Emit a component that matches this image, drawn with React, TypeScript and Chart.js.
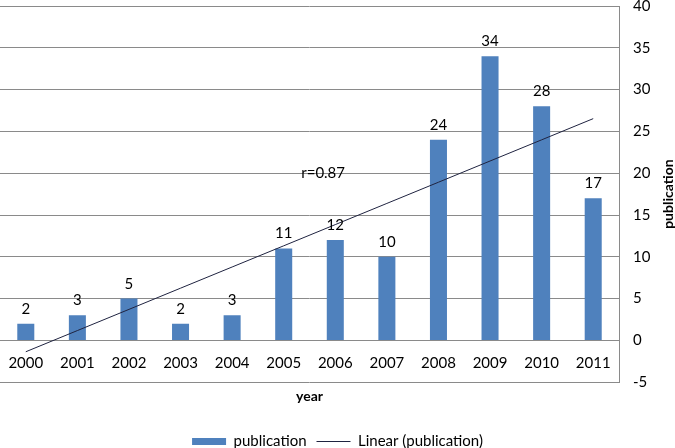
import { useEffect, useRef } from 'react';
import { Chart, registerables } from 'chart.js';

Chart.register(...registerables);

const years = ['2000', '2001', '2002', '2003', '2004', '2005', '2006', '2007', '2008', '2009', '2010', '2011'];
const publications = [2, 3, 5, 2, 3, 11, 12, 10, 24, 34, 28, 17];
const yMin = -5;
const yMax = 40;
const yStep = 5;
const seriesName = 'publication';
const trendName = 'Linear (publication)';
const xTitle = 'year';
const yTitle = 'publication';
const rLabel = 'r=0.87';

// Excel-style linear trendline: least-squares fit of the publication series
function linearFit(values: number[]): number[] {
  const n = values.length;
  const xs = values.map((_, i) => i + 1);
  const mx = xs.reduce((a, b) => a + b, 0) / n;
  const my = values.reduce((a, b) => a + b, 0) / n;
  let sxy = 0;
  let sxx = 0;
  for (let i = 0; i < n; i++) {
    sxy += (xs[i] - mx) * (values[i] - my);
    sxx += (xs[i] - mx) * (xs[i] - mx);
  }
  const slope = sxy / sxx;
  const intercept = my - slope * mx;
  return xs.map((x) => intercept + slope * x);
}

const FONT = 'Lato, "Noto Sans", sans-serif';
const GRID = '#8a8a8a';
const BAR = '#4F81BD';
const TREND = '#1f2340';

const extrasPlugin = {
  id: 'extras',
  afterDatasetsDraw(chart: any) {
    const ctx = chart.ctx;
    const meta = chart.getDatasetMeta(0);
    ctx.save();
    ctx.font = `15px ${FONT}`;
    ctx.fillStyle = '#000';
    ctx.textAlign = 'center';
    ctx.textBaseline = 'alphabetic';
    meta.data.forEach((bar: any, i: number) => {
      ctx.fillText(String(publications[i]), bar.x, bar.y - 10);
    });
    // r annotation
    const area = chart.chartArea;
    const yScale = chart.scales.y;
    ctx.textBaseline = 'middle';
    ctx.fillText(rLabel, area.left + (area.right - area.left) * 0.522, yScale.getPixelForValue(20));
    // right axis title (reads bottom to top)
    ctx.font = `bold 14px ${FONT}`;
    ctx.translate(668, (area.top + area.bottom) / 2);
    ctx.rotate(-Math.PI / 2);
    ctx.fillText(yTitle, 0, 0);
    ctx.restore();
  },
};

export default function App() {
  const ref = useRef<HTMLCanvasElement | null>(null);

  useEffect(() => {
    document.body.style.margin = '0';
    const canvas = ref.current;
    if (!canvas) return;
    const trend = linearFit(publications);
    const chart = new Chart(canvas, {
      type: 'bar',
      data: {
        labels: years,
        datasets: [
          {
            type: 'bar',
            label: seriesName,
            data: publications,
            backgroundColor: BAR,
            borderWidth: 0,
            barPercentage: 0.66,
            categoryPercentage: 0.5,
            order: 2,
          },
          {
            type: 'line',
            label: trendName,
            data: trend,
            borderColor: TREND,
            borderWidth: 1,
            pointRadius: 0,
            pointHitRadius: 0,
            fill: false,
            tension: 0,
            order: 1,
          },
        ],
      },
      options: {
        animation: false,
        responsive: false,
        maintainAspectRatio: false,
        layout: { padding: { top: 0, left: 0, right: 0, bottom: -11 } },
        scales: {
          x: {
            position: { y: 0 } as any,
            grid: {
              display: true,
              drawOnChartArea: false,
              drawTicks: true,
              tickLength: 14,
              color: 'rgba(0,0,0,0)',
              tickColor: 'rgba(0,0,0,0)',
            },
            border: { display: true, color: GRID },
            ticks: { color: '#000', font: { family: FONT, size: 15 }, padding: 0, maxRotation: 0 },
          },
          y: {
            position: 'right',
            min: yMin,
            max: yMax,
            ticks: {
              stepSize: yStep,
              color: '#000',
              font: { family: FONT, size: 15, lineHeight: 0.8 },
              padding: 0,
            },
            grid: { color: GRID, drawTicks: true, tickLength: 14, tickColor: 'rgba(0,0,0,0)' },
            border: { display: true, color: GRID },
            afterFit: (scale: any) => {
              scale.width = 56;
            },
          },
        },
        plugins: {
          title: {
            display: true,
            text: xTitle,
            position: 'bottom',
            fullSize: false,
            weight: 0,
            color: '#000',
            font: { family: FONT, size: 14, weight: 'bold' },
            padding: { top: 6, bottom: 19 },
          },
          legend: {
            position: 'bottom',
            weight: 3000,
            labels: {
              color: '#000',
              font: { family: FONT, size: 15 },
              usePointStyle: true,
              pointStyleWidth: 34,
              boxHeight: 7,
              padding: 10,
              sort: (a: any, b: any) => a.datasetIndex - b.datasetIndex,
              generateLabels: (chart: any) => {
                const items = Chart.defaults.plugins.legend.labels.generateLabels(chart);
                return items.map((it: any) => {
                  if (it.datasetIndex === 0) {
                    return { ...it, pointStyle: 'rect', fillStyle: BAR, strokeStyle: BAR, lineWidth: 0 };
                  }
                  return { ...it, pointStyle: 'line', fillStyle: TREND, strokeStyle: TREND, lineWidth: 1 };
                });
              },
            },
          },
          tooltip: { enabled: false },
        },
      },
      plugins: [extrasPlugin],
    });
    return () => chart.destroy();
  }, []);

  return (
    <div style={{ width: 675, height: 448 }}>
      <canvas ref={ref} width={675} height={448} style={{ display: 'block' }} />
    </div>
  );
}
